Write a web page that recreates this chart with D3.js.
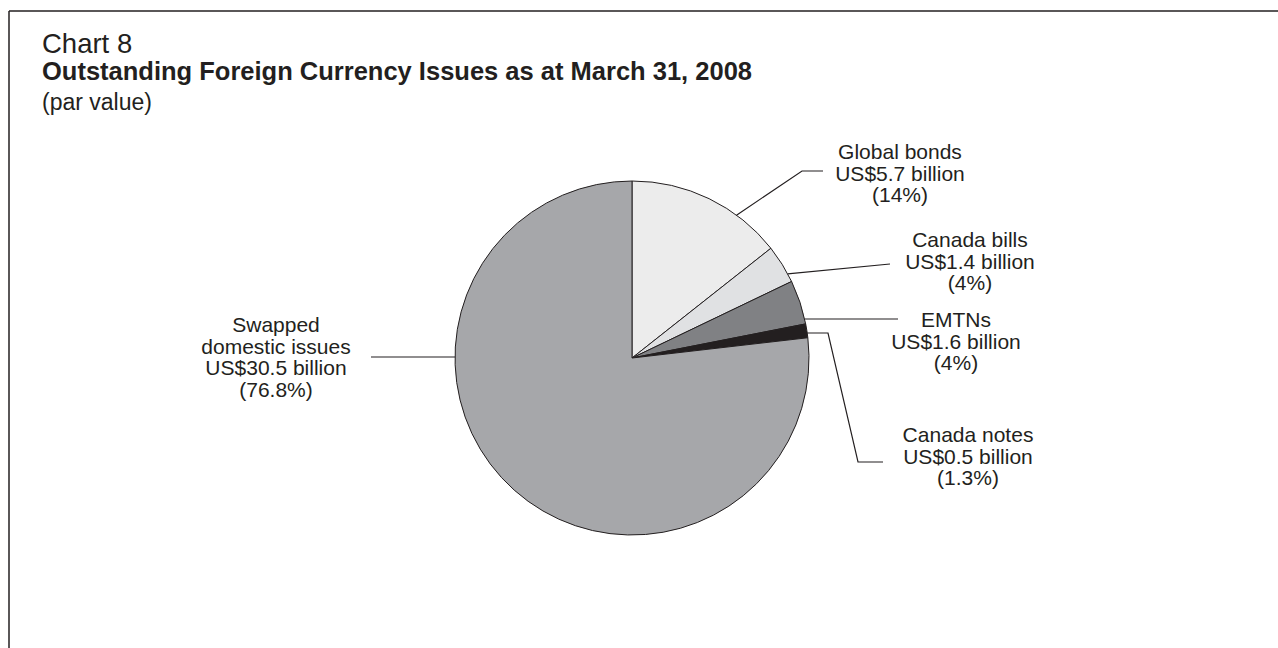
<!DOCTYPE html>
<html lang="en">
<head>
  <meta charset="UTF-8">
  <title>Chart 8</title>
  <script src="https://d3js.org/d3.v7.min.js"></script>
  <style>
    body { margin: 0; background: #ffffff; }
    svg { display: block; font-family: 'Liberation Sans', Arial, sans-serif; }
  </style>
</head>
<body>
  <svg width="1278" height="648"></svg>
  <script>
    // values in US$ billions, clockwise from 12 o'clock
    const categories = ["Global bonds", "Canada bills", "EMTNs", "Canada notes", "Swapped domestic issues"];
    const values = [5.7, 1.4, 1.6, 0.5, 30.5];
    const amountLabels = ["US$5.7 billion", "US$1.4 billion", "US$1.6 billion", "US$0.5 billion", "US$30.5 billion"];
    const shareLabels = ["(14%)", "(4%)", "(4%)", "(1.3%)", "(76.8%)"];
    const nameLines = [["Global bonds"], ["Canada bills"], ["EMTNs"], ["Canada notes"], ["Swapped", "domestic issues"]];
    const colors = ["#ececec", "#e0e1e3", "#808184", "#231f20", "#a6a7aa"];

    const ink = "#231f20";
    const svg = d3.select("svg");

    // frame: top and left rules only
    svg.append("line").attr("x1", 9).attr("y1", 11).attr("x2", 1278).attr("y2", 11)
       .style("stroke", ink).style("stroke-width", 1.5);
    svg.append("line").attr("x1", 9).attr("y1", 11).attr("x2", 9).attr("y2", 648)
       .style("stroke", ink).style("stroke-width", 1.5);

    // titles
    svg.append("text").attr("x", 42).attr("y", 53).style("font-size", "27.5px").style("fill", ink).text("Chart 8");
    svg.append("text").attr("x", 42).attr("y", 80).style("font-size", "25.5px").style("font-weight", "bold")
       .style("fill", ink).text("Outstanding Foreign Currency Issues as at March 31, 2008");
    svg.append("text").attr("x", 42).attr("y", 110).style("font-size", "23px").style("fill", ink).text("(par value)");

    // pie
    const cx = 632, cy = 358, r = 177;
    const pie = d3.pie().sort(null).value(d => d)(values);
    const arc = d3.arc().innerRadius(0).outerRadius(r);

    const g = svg.append("g").attr("transform", `translate(${cx},${cy})`);
    g.selectAll("path")
     .data(pie)
     .enter()
     .append("path")
     .attr("d", arc)
     .style("fill", (d, i) => colors[i])
     .style("stroke", ink)
     .style("stroke-width", 1);

    // leader lines: start on the rim (by fraction of the slice, or at a given height), then bend points
    function rim(d, t) {
      const a = d.startAngle + (d.endAngle - d.startAngle) * t;
      return [cx + r * Math.sin(a), cy - r * Math.cos(a)];
    }
    function rimAtY(y, side) {
      return [cx + side * Math.sqrt(r * r - (y - cy) * (y - cy)), y];
    }
    const leaders = [
      { start: () => rim(pie[0], 0.70), pts: [[802, 171], [823, 171]] },
      { start: () => rim(pie[1], 0.78), pts: [[890, 264]] },
      { start: () => rimAtY(319, 1), pts: [[898, 319]] },
      { start: () => rimAtY(333, 1), pts: [[828, 333], [858, 462], [883, 462]] },
      { start: () => rimAtY(357, -1), pts: [[371, 357]] }
    ];
    const labelPos = [
      { x: 900, y: 159 },
      { x: 970, y: 247 },
      { x: 956, y: 327 },
      { x: 968, y: 442 },
      { x: 276, y: 332 }
    ];

    const line = d3.line();
    leaders.forEach(l => {
      svg.append("path")
         .attr("d", line([l.start()].concat(l.pts)))
         .style("fill", "none")
         .style("stroke", ink)
         .style("stroke-width", 1.2);
    });

    // labels
    categories.forEach((c, i) => {
      const lines = nameLines[i].concat([amountLabels[i], shareLabels[i]]);
      const t = svg.append("text")
         .attr("x", labelPos[i].x)
         .attr("y", labelPos[i].y)
         .attr("text-anchor", "middle")
         .style("font-size", "21px")
         .style("fill", ink);
      lines.forEach((s, j) => {
        t.append("tspan").attr("x", labelPos[i].x).attr("dy", j === 0 ? 0 : 21.5).text(s);
      });
    });
  </script>
</body>
</html>
